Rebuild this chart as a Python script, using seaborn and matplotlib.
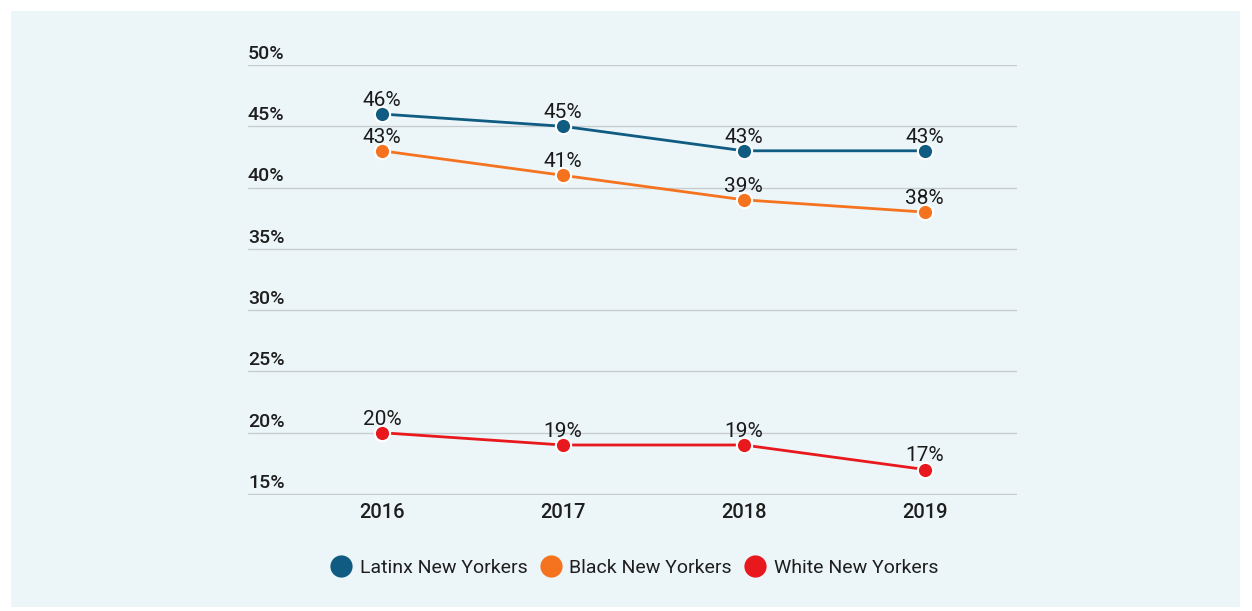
import pandas as pd
import seaborn as sns
import matplotlib.pyplot as plt
from matplotlib.patches import Rectangle
from matplotlib.lines import Line2D
import matplotlib.transforms as mtransforms

# Chart data
years = [2016, 2017, 2018, 2019]
latinx = [46, 45, 43, 43]
black = [43, 41, 39, 38]
white = [20, 19, 19, 17]
groups = ["Latinx New Yorkers", "Black New Yorkers", "White New Yorkers"]
colors = ["#0F5B82", "#F5731F", "#E8181C"]
y_ticks = [15, 20, 25, 30, 35, 40, 45, 50]

df = pd.DataFrame({
    "year": years * 3,
    "value": latinx + black + white,
    "group": [groups[0]] * 4 + [groups[1]] * 4 + [groups[2]] * 4,
})

sns.set_style("white")
plt.rcParams["font.family"] = ["Roboto", "DejaVu Sans"]

fig = plt.figure(figsize=(12.52, 6.11), dpi=100, facecolor="white")
# light panel behind the chart
fig.patches.append(Rectangle((11 / 1252, 4 / 611), 1229 / 1252, 596 / 611,
                             transform=fig.transFigure, facecolor="#ECF6F9",
                             edgecolor="none", zorder=-1))

ax = fig.add_axes([248 / 1252, 116 / 611, 769 / 1252, 430 / 611])
ax.set_facecolor("none")
ax.set_zorder(1)

sns.lineplot(data=df, x="year", y="value", hue="group", palette=colors,
             marker="o", markersize=11, markeredgecolor="white",
             markeredgewidth=1.5, linewidth=2, legend=False, ax=ax)

ax.set_xlim(2015.26, 2019.51)
ax.set_ylim(14.92, 50)
ax.set_yticks(y_ticks)
ax.set_yticklabels([])
ax.set_xticks(years)
ax.set_xticklabels([str(y) for y in years], fontsize=14.5, fontweight="medium",
                   color="#1e1e1e")
ax.tick_params(axis="both", length=0)
ax.tick_params(axis="x", pad=6)
ax.grid(axis="y", color="#C8CCCF", linewidth=1)
ax.set_axisbelow(True)
for s in ax.spines.values():
    s.set_visible(False)
ax.set_xlabel("")
ax.set_ylabel("")

# y labels sit above their grid lines, left aligned
trans = mtransforms.blended_transform_factory(ax.transAxes, ax.transData)
for t in y_ticks:
    ax.text(0, t, f"{t}%", transform=trans + mtransforms.ScaledTranslation(0, 1.5 / 72, fig.dpi_scale_trans),
            ha="left", va="bottom", fontsize=14, fontweight="medium", color="#1e1e1e")

# point labels
for series in (latinx, black, white):
    for x, v in zip(years, series):
        ax.annotate(f"{v}%", (x, v), xytext=(0, 3), textcoords="offset points",
                    ha="center", va="bottom", fontsize=15, color="#1a1a1a")

handles = [Line2D([], [], marker="o", linestyle="none", markersize=16,
                  markerfacecolor=c, markeredgecolor="none") for c in colors]
fig.legend(handles, groups, loc="center", bbox_to_anchor=(634 / 1252, 43 / 611),
           ncol=3, frameon=False, fontsize=14, handlelength=1.2,
           handletextpad=0.35, columnspacing=0.6, labelcolor="#1e1e1e")

fig.savefig("out.png", dpi=100, facecolor="white")
